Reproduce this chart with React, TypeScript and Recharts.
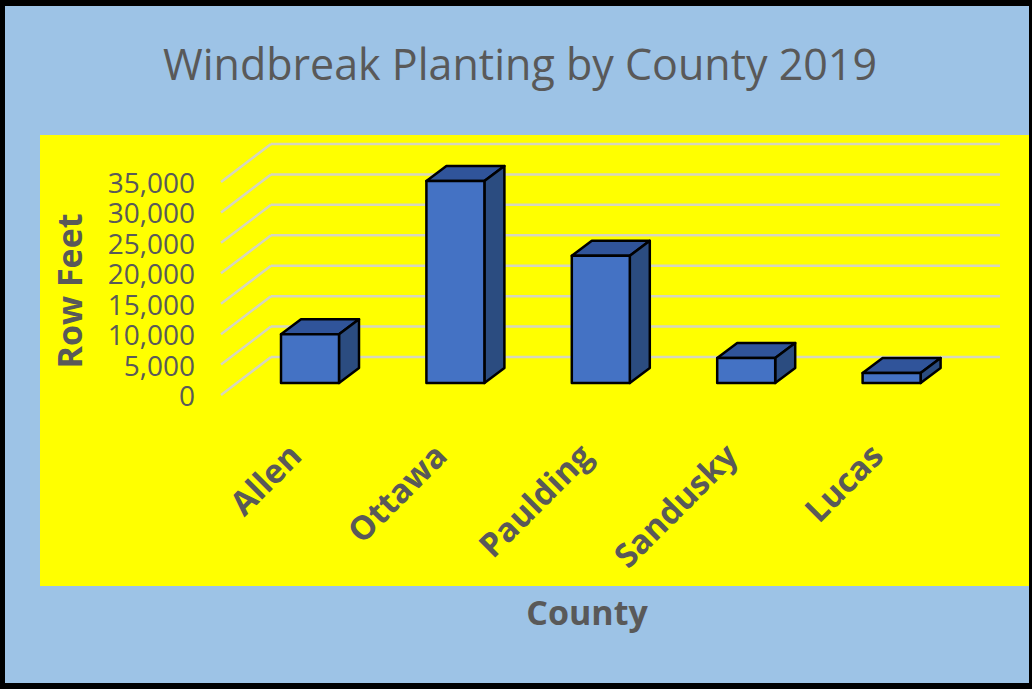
import React from "react";
import { BarChart, Bar, XAxis, YAxis, CartesianGrid } from "recharts";

const counties = ["Allen", "Ottawa", "Paulding", "Sandusky", "Lucas"];
const rowFeet = [8000, 33200, 20900, 4100, 1650];
const yTicks = [0, 5000, 10000, 15000, 20000, 25000, 30000, 35000];

const data = counties.map((county, i) => ({ county, rowFeet: rowFeet[i] }));

const FONT = '"Open Sans", "Noto Sans", sans-serif';
const GRAY = "#595959";

// oblique depth of the columns and of the back wall
const BAR_DX = 20;
const BAR_DY = 15;
const WALL_DX = 34;
const WALL_DY = 26;
const FRONT_DX = -16;
const FRONT_DY = 12;
const GRID_RIGHT = 1000;

const Column3D = (props: any) => {
  const { x, y, width, height } = props;
  if (height == null || width == null) return null;
  const top = `${x},${y} ${x + BAR_DX},${y - BAR_DY} ${x + width + BAR_DX},${y - BAR_DY} ${x + width},${y}`;
  const side = `${x + width},${y} ${x + width + BAR_DX},${y - BAR_DY} ${x + width + BAR_DX},${y + height - BAR_DY} ${x + width},${y + height}`;
  return (
    <g stroke="#000" strokeWidth={2.5} strokeLinejoin="round">
      <polygon points={top} fill="#30549A" />
      <polygon points={side} fill="#2B4C80" />
      <rect x={x} y={y} width={width} height={height} fill="#4472C4" />
    </g>
  );
};

// gridline: diagonal from the front plane, then flat along the back wall
const GridLine = (p: any) => {
  const y = p.y1;
  const x0 = p.x1;
  return (
    <g key={p.key}>
      <line
        x1={x0 + FRONT_DX}
        y1={y + FRONT_DY}
        x2={x0 + WALL_DX}
        y2={y - WALL_DY}
        stroke="#D6D6BE"
        strokeWidth={2.5}
      />
      <line
        x1={x0 + WALL_DX}
        y1={y - WALL_DY}
        x2={GRID_RIGHT}
        y2={y - WALL_DY}
        stroke="#D6D6BE"
        strokeWidth={2.5}
      />
    </g>
  );
};

const YTick = (p: any) => (
  <text
    x={195}
    y={p.y + FRONT_DY}
    textAnchor="end"
    dominantBaseline="central"
    fontSize={28}
    fill={GRAY}
    fontFamily={FONT}
  >
    {Number(p.payload.value).toLocaleString("en-US")}
  </text>
);

const XTick = (p: any) => (
  <text
    transform={`translate(${p.x - 6},${458}) rotate(-45)`}
    textAnchor="end"
    fontSize={33}
    fontWeight="bold"
    fill={GRAY}
    fontFamily={FONT}
  >
    {p.payload.value}
  </text>
);

export default function App() {
  return (
    <div
      style={{
        position: "absolute",
        left: 0,
        top: 0,
        width: 1032,
        height: 689,
        background: "#000",
      }}
    >
      <div
        style={{
          position: "absolute",
          left: 5,
          top: 6,
          width: 1024,
          height: 677,
          background: "#9DC3E6",
        }}
      />
      <div
        style={{
          position: "absolute",
          left: 40,
          top: 135,
          width: 989,
          height: 451,
          background: "#FFFF00",
        }}
      />
      <div style={{ position: "absolute", left: 0, top: 0 }}>
        <BarChart
          width={1032}
          height={689}
          data={data}
          margin={{ top: 170, right: 68, bottom: 0, left: 0 }}
          barSize={58}
        >
          <CartesianGrid vertical={false} horizontal={GridLine} />
          <YAxis
            width={237}
            domain={[0, 35000]}
            ticks={yTicks}
            tick={<YTick />}
            axisLine={false}
            tickLine={false}
          />
          <XAxis
            dataKey="county"
            height={306}
            tick={<XTick />}
            axisLine={false}
            tickLine={false}
            interval={0}
          />
          <Bar
            dataKey="rowFeet"
            shape={<Column3D />}
            isAnimationActive={false}
          />
        </BarChart>
      </div>
      <svg
        width={1032}
        height={689}
        style={{ position: "absolute", left: 0, top: 0, pointerEvents: "none" }}
      >
        <text
          x={520}
          y={80}
          textAnchor="middle"
          fontSize={43}
          fill={GRAY}
          fontFamily={FONT}
        >
          Windbreak Planting by County 2019
        </text>
        <text
          transform="translate(82,291) rotate(-90)"
          textAnchor="middle"
          fontSize={34}
          fontWeight="bold"
          fill={GRAY}
          fontFamily={FONT}
        >
          Row Feet
        </text>
        <text
          x={587}
          y={625}
          textAnchor="middle"
          fontSize={34}
          fontWeight="bold"
          fill={GRAY}
          fontFamily={FONT}
        >
          County
        </text>
      </svg>
    </div>
  );
}
